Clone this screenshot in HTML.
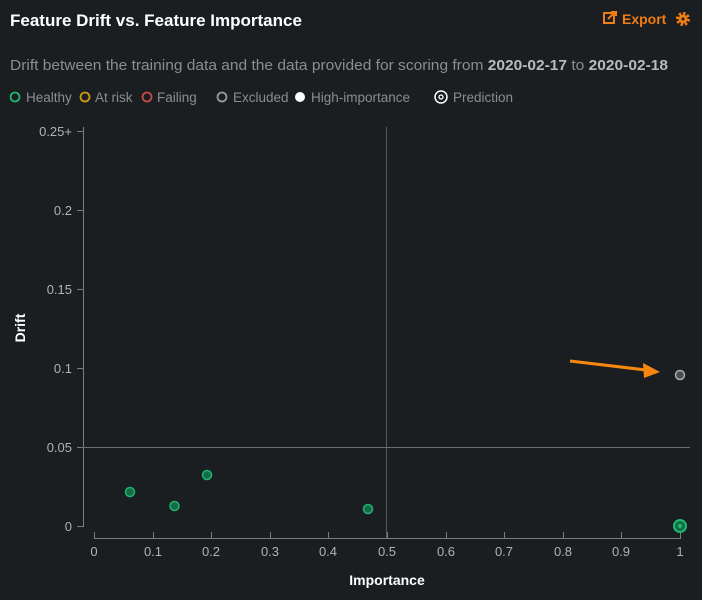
<!DOCTYPE html>
<html><head><meta charset="utf-8"><style>
body{margin:0;background:#1a1e21;width:702px;height:595px;overflow:hidden;font-family:"Liberation Sans",sans-serif}
</style></head><body>
<svg width="702" height="595" xmlns="http://www.w3.org/2000/svg" font-family="Liberation Sans, sans-serif">
<rect width="702" height="595" fill="#1a1e21"/>
<text x="10" y="26" fill="#fff" font-size="17" font-weight="bold">Feature Drift vs. Feature Importance</text>
<g fill="#f07c14">
<rect x="604" y="13" width="10" height="10" fill="none" stroke="#f07c14" stroke-width="2"/>
<path d="M608 19 L614 13 M611 12 L616 12 L616 16" stroke="#f07c14" stroke-width="2" fill="none"/>
<text x="622" y="24" font-size="14" font-weight="bold">Export</text>
<circle cx="683" cy="19" r="5" fill="none" stroke="#f07c14" stroke-width="4" stroke-dasharray="2.2 1.7"/>
<circle cx="683" cy="19" r="4.5"/><circle cx="683" cy="19" r="1.5" fill="#1a1e21"/>
</g>
<text x="10" y="70" fill="#8a8e91" font-size="15" textLength="658" lengthAdjust="spacingAndGlyphs">Drift between the training data and the data provided for scoring from <tspan font-weight="bold" fill="#b8bbbd">2020-02-17</tspan> to <tspan font-weight="bold" fill="#b8bbbd">2020-02-18</tspan></text>
<g font-size="13.5" fill="#8a8e91">
<circle cx="15" cy="97" r="4.5" fill="none" stroke="#1fb56f" stroke-width="1.8"/><text x="26" y="102">Healthy</text>
<circle cx="85" cy="97" r="4.5" fill="none" stroke="#c99a14" stroke-width="1.8"/><text x="95" y="102">At risk</text>
<circle cx="147" cy="97" r="4.5" fill="none" stroke="#c84a4a" stroke-width="1.8"/><text x="157" y="102">Failing</text>
<circle cx="222" cy="97" r="4.5" fill="none" stroke="#999" stroke-width="1.8"/><text x="233" y="102">Excluded</text>
<circle cx="300" cy="97" r="5" fill="#fff"/><text x="311" y="102">High-importance</text>
<circle cx="441" cy="97" r="6" fill="none" stroke="#fff" stroke-width="1.5"/><circle cx="441" cy="97" r="2" fill="none" stroke="#fff" stroke-width="1.3"/><text x="453" y="102">Prediction</text>
</g>
<g stroke="#7a7e80" stroke-width="1" fill="none">
<path d="M83.5 127 V526.5 H77"/>
<path d="M77 447.5 H83 M77 368.5H83 M77 289.5H83 M77 210.5H83 M77 131.5H83"/>
<path d="M94 538.5 H681"/>
<path d="M94.5 532V538 M153.5 532V538 M211.5 532V538 M270.5 532V538 M328.5 532V538 M387.5 532V538 M446.5 532V538 M504.5 532V538 M563.5 532V538 M621.5 532V538 M680.5 532V538"/>
<path d="M386.5 127V538" stroke="#55595b"/>
<path d="M83 447.5H690" stroke="#6a6e70"/>
</g>
<g fill="#b0b3b5" font-size="13" text-anchor="end">
<text x="72" y="531">0</text><text x="72" y="452">0.05</text><text x="72" y="373">0.1</text><text x="72" y="294">0.15</text><text x="72" y="215">0.2</text><text x="72" y="136">0.25+</text>
</g>
<g fill="#b0b3b5" font-size="13" text-anchor="middle">
<text x="94" y="556">0</text><text x="153" y="556">0.1</text><text x="211" y="556">0.2</text><text x="270" y="556">0.3</text><text x="328" y="556">0.4</text><text x="387" y="556">0.5</text><text x="446" y="556">0.6</text><text x="504" y="556">0.7</text><text x="563" y="556">0.8</text><text x="621" y="556">0.9</text><text x="680" y="556">1</text>
</g>
<text x="387" y="585" fill="#fff" font-size="14" font-weight="bold" text-anchor="middle">Importance</text>
<text transform="translate(25 328) rotate(-90)" fill="#fff" font-size="14" font-weight="bold" text-anchor="middle">Drift</text>
<g fill="#136b47" stroke="#1fb56f" stroke-width="1.5">
<circle cx="130" cy="492" r="4.5"/><circle cx="174.5" cy="506" r="4.5"/><circle cx="207" cy="475" r="4.5"/><circle cx="368" cy="509" r="4.5"/>
<circle cx="680" cy="526" r="6" stroke-width="2"/><circle cx="680" cy="526" r="2" fill="#1fb56f" stroke="none"/>
</g>
<circle cx="680" cy="375" r="4.5" fill="#4a4e51" stroke="#aaa" stroke-width="1.5"/>
<path d="M570 361 L646 370" stroke="#f7870f" stroke-width="3"/>
<path d="M643 363 L660 372 L644 378 Z" fill="#f7870f"/>
</svg>
</body></html>
